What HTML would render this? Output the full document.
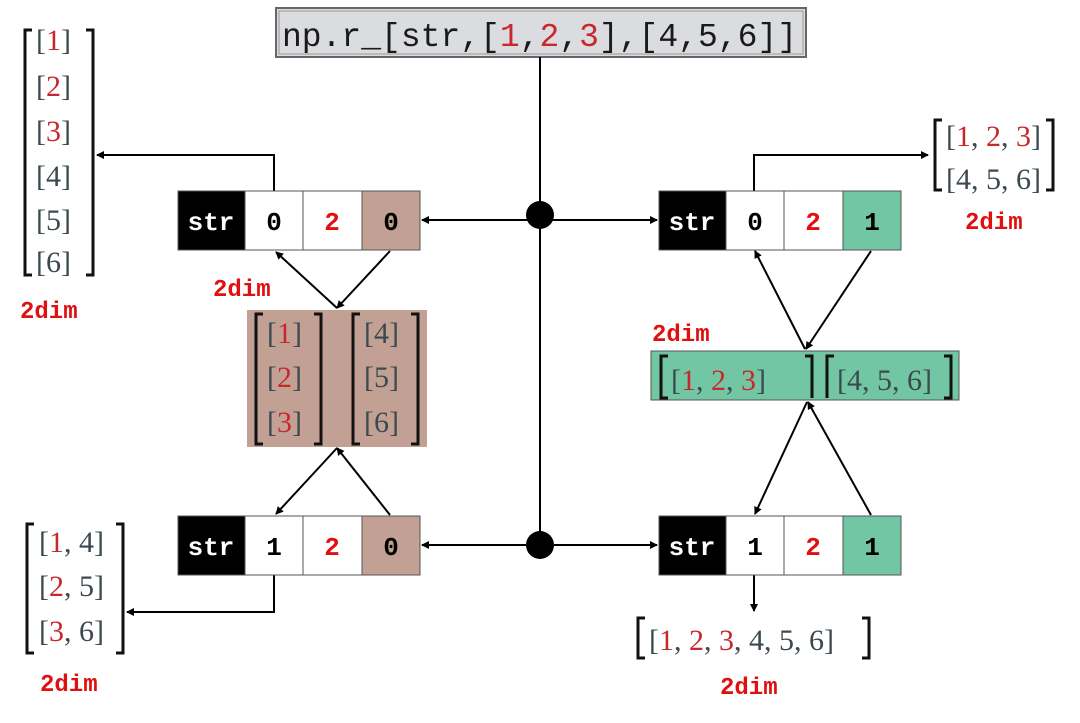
<!DOCTYPE html>
<html><head><meta charset="utf-8"><style>
html,body{margin:0;padding:0;background:#fff;}
svg{display:block}
.m{font-family:"Liberation Serif",serif;font-size:30px;fill:#3b4a4f}
.r{fill:#c8282d}
.c{font-family:"Liberation Mono",monospace;font-weight:bold;font-size:26px;text-anchor:middle}
.d{font-family:"Liberation Mono",monospace;font-weight:bold;font-size:24px;fill:#e01010}
</style></head><body>
<svg width="1080" height="723" viewBox="0 0 1080 723" xmlns="http://www.w3.org/2000/svg">
<defs><marker id="a" markerWidth="8" markerHeight="8" refX="7" refY="4" orient="auto" markerUnits="userSpaceOnUse"><path d="M0,0 L8,4 L0,8 z" fill="#000"/></marker></defs>
<rect width="1080" height="723" fill="#fff"/>
<!-- top box -->
<rect x="276" y="8" width="530" height="49" fill="#dadcdf" stroke="#666" stroke-width="2"/>
<rect x="279" y="11" width="524" height="43" fill="none" stroke="#999" stroke-width="1"/>
<text x="282" y="46" font-family="Liberation Mono,monospace" font-size="33" fill="#1a1a1a" textLength="515">np.r_[str,[<tspan fill="#c8282d">1</tspan>,<tspan fill="#c8282d">2</tspan>,<tspan fill="#c8282d">3</tspan>],[4,5,6]]</text>
<g stroke="#000" stroke-width="2" fill="none">
<line x1="540" y1="57" x2="540" y2="545"/>
<line x1="540" y1="220" x2="422" y2="220" marker-end="url(#a)"/>
<line x1="540" y1="220" x2="657" y2="220" marker-end="url(#a)"/>
<line x1="540" y1="545" x2="422" y2="545" marker-end="url(#a)"/>
<line x1="540" y1="545" x2="657" y2="545" marker-end="url(#a)"/>
<polyline points="274,191 274,155 97,155" marker-end="url(#a)"/>
<polyline points="754,191 754,155 928,155" marker-end="url(#a)"/>
<polyline points="274,575 274,612 127,612" marker-end="url(#a)"/>
<line x1="754" y1="575" x2="754" y2="611" marker-end="url(#a)"/>
<line x1="337" y1="308" x2="276" y2="252" marker-end="url(#a)"/>
<line x1="390" y1="251" x2="337" y2="308" marker-end="url(#a)"/>
<line x1="337" y1="448" x2="276" y2="514" marker-end="url(#a)"/>
<line x1="390" y1="515" x2="337" y2="448" marker-end="url(#a)"/>
<line x1="805" y1="349" x2="755" y2="251" marker-end="url(#a)"/>
<line x1="871" y1="251" x2="806" y2="349" marker-end="url(#a)"/>
<line x1="807" y1="402" x2="755" y2="514" marker-end="url(#a)"/>
<line x1="871" y1="515" x2="808" y2="402" marker-end="url(#a)"/>
</g>
<circle cx="540" cy="215" r="14" fill="#000"/>
<circle cx="540" cy="545" r="14" fill="#000"/>
<!-- rows -->
<g stroke="#555" stroke-width="1">
<rect x="178" y="191" width="67" height="59" fill="#000"/><rect x="245" y="191" width="58" height="59" fill="#fff"/><rect x="303" y="191" width="59" height="59" fill="#fff"/><rect x="362" y="191" width="58" height="59" fill="#c3a094"/>
<rect x="659" y="191" width="67" height="59" fill="#000"/><rect x="726" y="191" width="58" height="59" fill="#fff"/><rect x="784" y="191" width="59" height="59" fill="#fff"/><rect x="843" y="191" width="58" height="59" fill="#73c6a3"/>
<rect x="178" y="516" width="67" height="59" fill="#000"/><rect x="245" y="516" width="58" height="59" fill="#fff"/><rect x="303" y="516" width="59" height="59" fill="#fff"/><rect x="362" y="516" width="58" height="59" fill="#c3a094"/>
<rect x="659" y="516" width="67" height="59" fill="#000"/><rect x="726" y="516" width="58" height="59" fill="#fff"/><rect x="784" y="516" width="59" height="59" fill="#fff"/><rect x="843" y="516" width="58" height="59" fill="#73c6a3"/>
</g>
<g class="c">
<text x="211" y="230" fill="#fff">str</text><text x="274" y="230">0</text><text x="332" y="230" fill="#e01010">2</text><text x="391" y="230">0</text>
<text x="692" y="230" fill="#fff">str</text><text x="755" y="230">0</text><text x="813" y="230" fill="#e01010">2</text><text x="872" y="230">1</text>
<text x="211" y="555" fill="#fff">str</text><text x="274" y="555">1</text><text x="332" y="555" fill="#e01010">2</text><text x="391" y="555">0</text>
<text x="692" y="555" fill="#fff">str</text><text x="755" y="555">1</text><text x="813" y="555" fill="#e01010">2</text><text x="872" y="555">1</text>
</g>
<!-- brown box -->
<rect x="247" y="310" width="180" height="137" fill="#c3a094"/>
<!-- green box -->
<rect x="651" y="351" width="308" height="49" fill="#73c6a3" stroke="#555" stroke-width="1"/>
<!-- big brackets -->
<g stroke="#111" stroke-width="3" fill="none">
<polyline points="32,30 25,30 25,275 32,275"/><polyline points="86,30 93,30 93,275 86,275"/>
<polyline points="263,314 256,314 256,444 263,444"/><polyline points="314,314 321,314 321,444 314,444"/>
<polyline points="360,314 353,314 353,444 360,444"/><polyline points="411,314 418,314 418,444 411,444"/>
<polyline points="34,524 27,524 27,653 34,653"/><polyline points="116,524 123,524 123,653 116,653"/>
<polyline points="942,120 935,120 935,190 942,190"/><polyline points="1046,120 1053,120 1053,190 1046,190"/>
<polyline points="668,356 661,356 661,398 668,398"/><polyline points="805,356 812,356 812,398"/>
<polyline points="827,398 827,356 834,356"/><polyline points="944,356 951,356 951,398 944,398"/>
<polyline points="645,618 638,618 638,658 645,658"/><polyline points="862,618 869,618 869,658 862,658"/>
</g>
<g class="m">
<text x="36" y="50">[<tspan class="r">1</tspan>]</text>
<text x="36" y="96">[<tspan class="r">2</tspan>]</text>
<text x="36" y="141">[<tspan class="r">3</tspan>]</text>
<text x="36" y="186">[4]</text>
<text x="36" y="230">[5]</text>
<text x="36" y="272">[6]</text>
<text x="267" y="343">[<tspan class="r">1</tspan>]</text>
<text x="267" y="387">[<tspan class="r">2</tspan>]</text>
<text x="267" y="432">[<tspan class="r">3</tspan>]</text>
<text x="364" y="343">[4]</text>
<text x="364" y="387">[5]</text>
<text x="364" y="432">[6]</text>
<text x="39" y="552">[<tspan class="r">1</tspan>, 4]</text>
<text x="39" y="596">[<tspan class="r">2</tspan>, 5]</text>
<text x="39" y="641">[<tspan class="r">3</tspan>, 6]</text>
<text x="946" y="146">[<tspan class="r">1</tspan>, <tspan class="r">2</tspan>, <tspan class="r">3</tspan>]</text>
<text x="946" y="189">[4, 5, 6]</text>
<text x="671" y="390">[<tspan class="r">1</tspan>, <tspan class="r">2</tspan>, <tspan class="r">3</tspan>]</text>
<text x="837" y="390">[4, 5, 6]</text>
<text x="649" y="650">[<tspan class="r">1</tspan>, <tspan class="r">2</tspan>, <tspan class="r">3</tspan>, 4, 5, 6]</text>
</g>
<g class="d">
<text x="20" y="318">2dim</text>
<text x="213" y="296">2dim</text>
<text x="965" y="229">2dim</text>
<text x="652" y="341">2dim</text>
<text x="40" y="691">2dim</text>
<text x="720" y="694">2dim</text>
</g>
</svg>
</body></html>
